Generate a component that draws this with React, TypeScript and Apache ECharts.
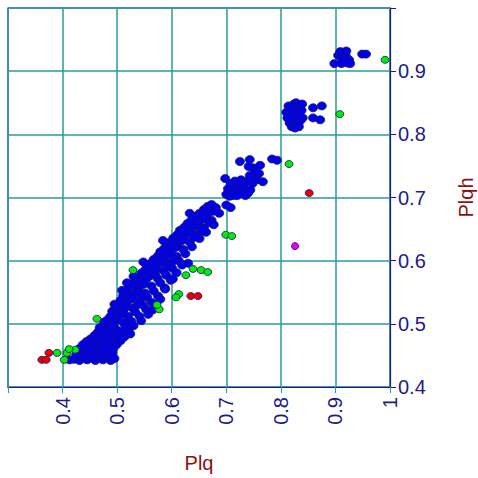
import React, { useEffect, useRef } from "react";
import * as echarts from "echarts";

const xTicks = [0.4, 0.5, 0.6, 0.7, 0.8, 0.9, 1];
const yTicks = [0.4, 0.5, 0.6, 0.7, 0.8, 0.9];

const bluePoints: number[][] = [
  [0.413, 0.443], [0.421, 0.444], [0.431, 0.442], [0.438, 0.447], [0.445, 0.443], [0.453, 0.446], [0.460, 0.442], [0.467, 0.447], [0.474, 0.443], [0.482, 0.446], [0.488, 0.442], [0.495, 0.445],
  [0.425, 0.451], [0.433, 0.456], [0.442, 0.450], [0.447, 0.457], [0.456, 0.451], [0.461, 0.456], [0.471, 0.450], [0.476, 0.457], [0.485, 0.451], [0.491, 0.454],
  [0.431, 0.461], [0.441, 0.464], [0.448, 0.459], [0.454, 0.466], [0.464, 0.461], [0.470, 0.465], [0.479, 0.460], [0.485, 0.466], [0.493, 0.461], [0.437, 0.467],
  [0.444, 0.472], [0.451, 0.476], [0.461, 0.470], [0.467, 0.475], [0.477, 0.471], [0.483, 0.476], [0.492, 0.471], [0.499, 0.467], [0.456, 0.478],
  [0.459, 0.482], [0.465, 0.487], [0.474, 0.480], [0.481, 0.488], [0.486, 0.482], [0.495, 0.486], [0.501, 0.477], [0.506, 0.473], [0.468, 0.494],
  [0.471, 0.491], [0.479, 0.499], [0.487, 0.493], [0.494, 0.497], [0.500, 0.490], [0.508, 0.486], [0.513, 0.479], [0.476, 0.503],
  [0.483, 0.507], [0.488, 0.512], [0.497, 0.505], [0.502, 0.511], [0.511, 0.502], [0.515, 0.495], [0.521, 0.490], [0.524, 0.484],
  [0.491, 0.520], [0.498, 0.525], [0.507, 0.515], [0.512, 0.522], [0.520, 0.512], [0.526, 0.504], [0.530, 0.497], [0.495, 0.531],
  [0.501, 0.529], [0.506, 0.537], [0.515, 0.528], [0.520, 0.536], [0.528, 0.525], [0.533, 0.519], [0.541, 0.512], [0.544, 0.505], [0.537, 0.530],
  [0.511, 0.545], [0.518, 0.550], [0.527, 0.540], [0.532, 0.548], [0.541, 0.537], [0.547, 0.530], [0.553, 0.523], [0.557, 0.515], [0.509, 0.553],
  [0.521, 0.557], [0.528, 0.562], [0.537, 0.552], [0.542, 0.560], [0.551, 0.549], [0.555, 0.542], [0.563, 0.534], [0.547, 0.545], [0.518, 0.565],
  [0.533, 0.568], [0.540, 0.573], [0.549, 0.563], [0.554, 0.571], [0.563, 0.560], [0.567, 0.552], [0.575, 0.544], [0.530, 0.575],
  [0.544, 0.580], [0.551, 0.585], [0.560, 0.576], [0.565, 0.583], [0.574, 0.572], [0.579, 0.565], [0.587, 0.557], [0.570, 0.578],
  [0.555, 0.592], [0.562, 0.596], [0.571, 0.587], [0.576, 0.595], [0.585, 0.584], [0.590, 0.577], [0.598, 0.569], [0.548, 0.598],
  [0.567, 0.602], [0.574, 0.607], [0.583, 0.598], [0.588, 0.605], [0.597, 0.595], [0.601, 0.588], [0.609, 0.581], [0.592, 0.590],
  [0.579, 0.614], [0.586, 0.619], [0.595, 0.610], [0.600, 0.617], [0.609, 0.607], [0.613, 0.600], [0.619, 0.593], [0.604, 0.600],
  [0.591, 0.625], [0.598, 0.630], [0.607, 0.621], [0.612, 0.628], [0.621, 0.618], [0.625, 0.611], [0.584, 0.632],
  [0.603, 0.636], [0.610, 0.641], [0.619, 0.632], [0.624, 0.639], [0.633, 0.629], [0.637, 0.622], [0.615, 0.648],
  [0.618, 0.645], [0.623, 0.653], [0.632, 0.644], [0.637, 0.651], [0.646, 0.641], [0.651, 0.635], [0.641, 0.637],
  [0.629, 0.659], [0.636, 0.664], [0.645, 0.655], [0.650, 0.662], [0.659, 0.652], [0.663, 0.645], [0.655, 0.647],
  [0.644, 0.670], [0.651, 0.675], [0.660, 0.666], [0.665, 0.673], [0.673, 0.664], [0.677, 0.657], [0.669, 0.660],
  [0.659, 0.681], [0.666, 0.686], [0.675, 0.678], [0.681, 0.684], [0.687, 0.675], [0.673, 0.689],
  [0.633, 0.675], [0.700, 0.688], [0.708, 0.684], [0.630, 0.596], [0.602, 0.571], [0.588, 0.555], [0.565, 0.522], [0.579, 0.539],
  [0.698, 0.730], [0.703, 0.714], [0.708, 0.722], [0.712, 0.712], [0.716, 0.726], [0.720, 0.713], [0.724, 0.720], [0.728, 0.708],
  [0.732, 0.717], [0.736, 0.726], [0.740, 0.707], [0.744, 0.712], [0.743, 0.735], [0.748, 0.722], [0.752, 0.730], [0.756, 0.728],
  [0.760, 0.738], [0.767, 0.725], [0.749, 0.747], [0.762, 0.751], [0.700, 0.705], [0.706, 0.702], [0.713, 0.703], [0.720, 0.703],
  [0.727, 0.728], [0.735, 0.703], [0.745, 0.727], [0.725, 0.757], [0.743, 0.760], [0.741, 0.749], [0.754, 0.741],
  [0.784, 0.761], [0.793, 0.759],
  [0.810, 0.835], [0.814, 0.845], [0.818, 0.830], [0.820, 0.840], [0.822, 0.820], [0.824, 0.848], [0.826, 0.833], [0.828, 0.825],
  [0.830, 0.842], [0.832, 0.815], [0.834, 0.830], [0.836, 0.822], [0.838, 0.838], [0.816, 0.818], [0.812, 0.826], [0.820, 0.812],
  [0.826, 0.810], [0.833, 0.812], [0.840, 0.826], [0.828, 0.850], [0.836, 0.846],
  [0.859, 0.842], [0.875, 0.845], [0.872, 0.823], [0.859, 0.826], [0.839, 0.848],
  [0.905, 0.925], [0.909, 0.931], [0.912, 0.920], [0.914, 0.928], [0.917, 0.915], [0.919, 0.924], [0.922, 0.913], [0.925, 0.918],
  [0.927, 0.912], [0.911, 0.912], [0.898, 0.912], [0.920, 0.932], [0.949, 0.927], [0.956, 0.927],
];

const greenPoints: number[][] = [
  [0.390, 0.454], [0.403, 0.443], [0.408, 0.454], [0.423, 0.459], [0.412, 0.460], [0.463, 0.508],
  [0.577, 0.523], [0.573, 0.530], [0.529, 0.585], [0.639, 0.587], [0.654, 0.585], [0.666, 0.582],
  [0.626, 0.577], [0.613, 0.547], [0.608, 0.542], [0.699, 0.641], [0.710, 0.639], [0.815, 0.753],
  [0.908, 0.832], [0.991, 0.918],
];

const redPoints: number[][] = [
  [0.375, 0.454], [0.362, 0.443], [0.370, 0.443], [0.635, 0.544], [0.648, 0.544], [0.852, 0.707],
];

const magentaPoints: number[][] = [[0.826, 0.623]];

const NAVY = "#1b1b8a";
const TEAL = "#2a9d9d";
const DARKRED = "#8b1010";
const FONT = "Liberation Sans, Arial, sans-serif";

function mk(name: string, data: number[][], color: string, size: number[]) {
  return {
    name,
    type: "scatter",
    data,
    symbol: "circle",
    symbolSize: size,
    itemStyle: { color, borderColor: "#14146e", borderWidth: 0.8, opacity: 1 },
  };
}

export default function App() {
  const ref = useRef<HTMLDivElement>(null);
  useEffect(() => {
    if (!ref.current) return;
    const chart = echarts.init(ref.current, null, { renderer: "svg" });
    chart.setOption({
      animation: false,
      backgroundColor: "#ffffff",
      grid: {
        left: 8, top: 8, right: 88, bottom: 91,
        outerBoundsMode: "none",
        containLabel: false,
        show: true, borderColor: NAVY, borderWidth: 1.2, backgroundColor: "transparent",
      },
      xAxis: {
        type: "value", min: 0.3, max: 1, interval: 0.1,
        name: "Plq", nameLocation: "middle", nameGap: 66,
        nameTextStyle: { color: DARKRED, fontSize: 20, fontFamily: FONT },
        axisLine: { show: true, lineStyle: { color: NAVY, width: 1.2 } },
        axisTick: { show: true, length: 6, lineStyle: { color: TEAL } },
        splitLine: { show: true, lineStyle: { color: TEAL, width: 1.5 } },
        axisLabel: {
          rotate: 90, margin: 10, color: NAVY, fontSize: 20, fontFamily: FONT,
          formatter: (v: number) => {
            const r = Math.round(v * 10) / 10;
            return xTicks.includes(r) ? String(r) : "";
          },
        },
      },
      yAxis: {
        type: "value", min: 0.4, max: 1, interval: 0.1, position: "right",
        name: "Plqh", nameLocation: "middle", nameGap: 66, nameRotate: 90,
        nameTextStyle: { color: DARKRED, fontSize: 20, fontFamily: FONT },
        axisLine: { show: true, lineStyle: { color: NAVY, width: 1.2 } },
        axisTick: { show: true, length: 6, lineStyle: { color: NAVY } },
        splitLine: { show: true, lineStyle: { color: TEAL, width: 1.5 } },
        axisLabel: {
          margin: 8, color: NAVY, fontSize: 20, fontFamily: FONT,
          formatter: (v: number) => {
            const r = Math.round(v * 10) / 10;
            return yTicks.includes(r) ? r.toFixed(1) : "";
          },
        },
      },
      series: [
        mk("blue", bluePoints, "#0000ee", [9, 8]),
        mk("green", greenPoints, "#00ee00", [8, 7]),
        mk("red", redPoints, "#ee0000", [8, 7]),
        mk("magenta", magentaPoints, "#ee00ee", [7, 7]),
      ],
    });
    return () => chart.dispose();
  }, []);
  return (
    <div style={{ position: "fixed", left: 0, top: 0, width: 478, height: 478, background: "#fff" }}>
      <div ref={ref} style={{ width: 478, height: 478 }} />
    </div>
  );
}
